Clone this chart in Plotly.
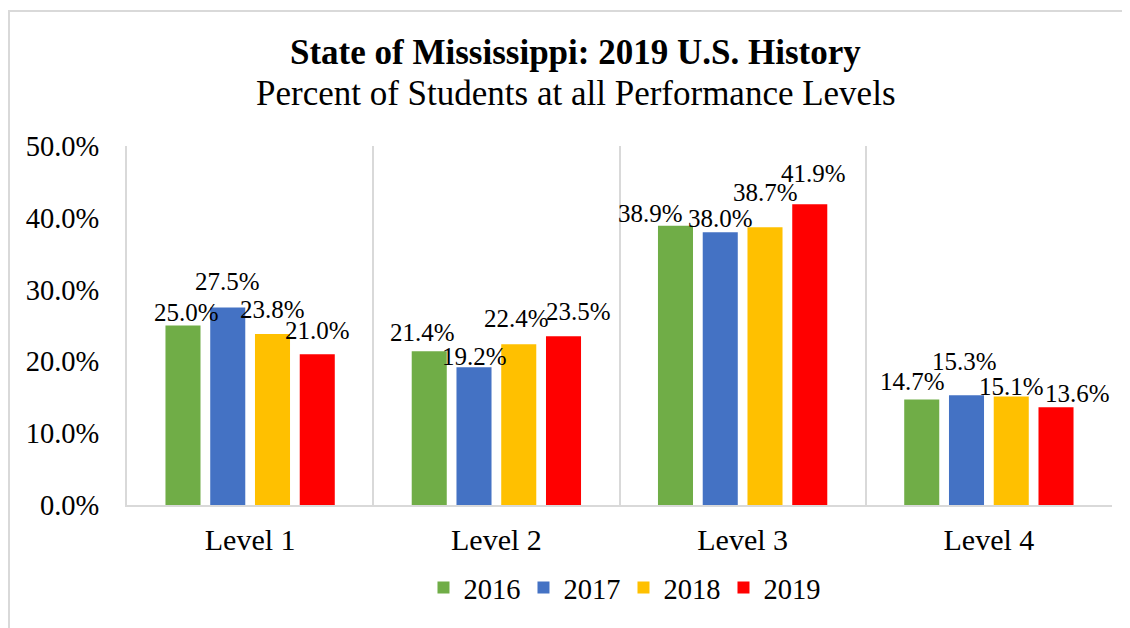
import plotly.graph_objects as go

categories = ["Level 1", "Level 2", "Level 3", "Level 4"]
years = ["2016", "2017", "2018", "2019"]
values_2016 = [0.250, 0.214, 0.389, 0.147]
values_2017 = [0.275, 0.192, 0.380, 0.153]
values_2018 = [0.238, 0.224, 0.387, 0.151]
values_2019 = [0.210, 0.235, 0.419, 0.136]
series = [values_2016, values_2017, values_2018, values_2019]
colors = ["#70AD47", "#4472C4", "#FFC000", "#FF0000"]
y_ticks = [0, 0.1, 0.2, 0.3, 0.4, 0.5]

# label placement (pixel nudges, style only), per series per category
label_dx = [[4, -7, -25, -9], [0, 0, 0, -2], [0, -2, 0, 0], [0, 15, 4, 21]]
label_dy = [[13, 19, 12, 18], [26, 11, 14, 34], [25, 26, 35, 10], [24, 25, 31, 14]]

FONT = "Liberation Serif"

W, H = 1122, 620
ML, MR, MT, MB = 119, 18, 138, 123
BARGAP, GROUPGAP = 0.273, 0.217

fig = go.Figure()
for name, vals, col in zip(years, series, colors):
    fig.add_trace(go.Bar(
        x=categories, y=vals, name=name,
        marker=dict(color=col, line=dict(width=0)),
        hoverinfo="x+y+name",
    ))

plot_w = W - ML - MR
cat_w = plot_w / len(categories)
slot = cat_w * (1 - BARGAP) / len(years)

annotations = []
for si, vals in enumerate(series):
    off = (si - (len(years) - 1) / 2) * slot
    for ci, v in enumerate(vals):
        annotations.append(dict(
            x=categories[ci], y=v, xref="x", yref="y",
            text=f"{v*100:.1f}%", showarrow=False,
            xanchor="center", yanchor="middle",
            xshift=off + label_dx[si][ci], yshift=label_dy[si][ci],
            font=dict(family=FONT, size=25, color="black"),
        ))

annotations += [
    dict(text="<b>State of Mississippi: 2019 U.S. History</b>", xref="paper", yref="paper",
         x=0.455, y=1.26, xanchor="center", yanchor="middle", showarrow=False,
         font=dict(family=FONT, size=35, color="black")),
    dict(text="Percent of Students at all Performance Levels", xref="paper", yref="paper",
         x=0.456, y=1.147, xanchor="center", yanchor="middle", showarrow=False,
         font=dict(family=FONT, size=35, color="black")),
]

fig.update_layout(
    width=W, height=H,
    margin=dict(l=ML, r=MR, t=MT, b=MB, autoexpand=False),
    paper_bgcolor="white", plot_bgcolor="white",
    font=dict(family=FONT, color="black"),
    barmode="group", bargap=BARGAP, bargroupgap=GROUPGAP,
    showlegend=True,
    legend=dict(orientation="h", x=0.301, xanchor="left", y=-0.231, yanchor="middle",
                font=dict(family=FONT, size=28.5), entrywidth=55, entrywidthmode="pixels",
                traceorder="normal", bgcolor="rgba(0,0,0,0)"),
    annotations=annotations,
    shapes=[
        dict(type="rect", xref="paper", yref="paper", x0=-0.1198, x1=1.05, y0=-0.5, y1=1.376,
             line=dict(color="#D9D9D9", width=2), fillcolor="rgba(0,0,0,0)", layer="below"),
    ],
)

fig.update_xaxes(
    tickson="boundaries", showgrid=True, gridcolor="#D9D9D9", gridwidth=2,
    showline=True, linecolor="#D9D9D9", linewidth=2, mirror=False,
    ticks="", tickfont=dict(family=FONT, size=30), ticklabelstandoff=7,
)
fig.update_yaxes(
    range=[0, 0.5], tickvals=y_ticks, tickformat=".1%", showgrid=False,
    zeroline=False, showline=True, linecolor="#D9D9D9", linewidth=2, ticks="",
    tickfont=dict(family=FONT, size=28.5), ticklabelstandoff=20,
)

fig.write_html("out.html")
